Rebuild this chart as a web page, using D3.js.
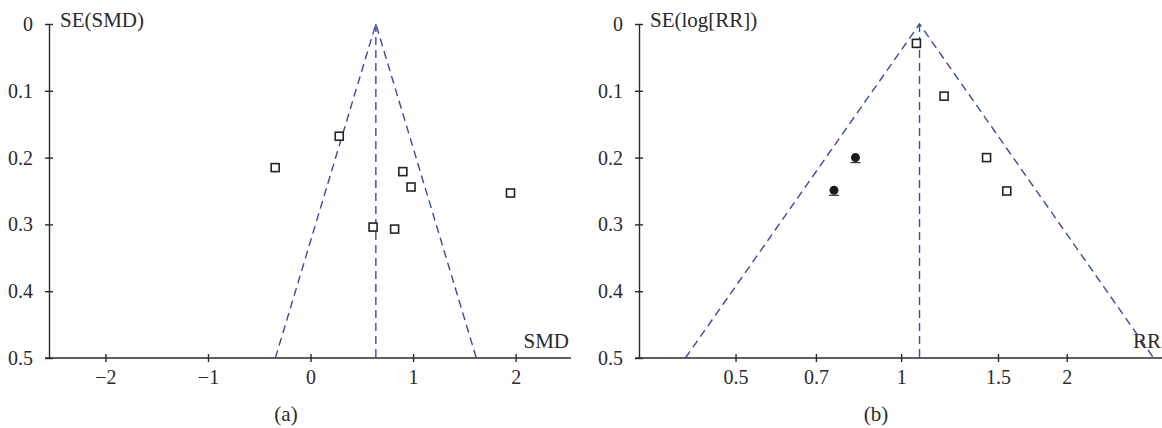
<!DOCTYPE html>
<html>
<head>
<meta charset="utf-8">
<script src="https://cdn.jsdelivr.net/npm/d3@7"></script>
<style>
  body { margin: 0; background: #fff; }
  svg { display: block; }
  text { font-family: "Liberation Serif", "DejaVu Serif", serif; fill: #2a2a2a; }
  .axis path, .axis line { stroke: #2a2a2a; stroke-width: 1.4; }
  .funnel { stroke: #3b48a6; stroke-width: 1.4; stroke-dasharray: 8,5; fill: none; }
</style>
</head>
<body>
<svg id="chart" width="1162" height="428"></svg>
<script>
// SE axis (shared)
const seTicks = [0, 0.1, 0.2, 0.3, 0.4, 0.5];

// (a) SMD funnel
const smdTicks = [-2, -1, 0, 1, 2];
const smdValues = [0.28, -0.345, 0.90, 0.98, 1.95, 0.61, 0.82];
const smdSE = [0.168, 0.215, 0.221, 0.244, 0.253, 0.304, 0.307];
const pooledSMD = 0.637;

// (b) RR funnel
const rrTicks = [0.5, 0.7, 1, 1.5, 2];
const rrObserved = [1.066, 1.197, 1.43, 1.556];
const rrObservedSE = [0.029, 0.108, 0.20, 0.25];
const rrFilled = [0.826, 0.755];
const rrFilledSE = [0.20, 0.249];
const pooledRR = 1.08;

const svg = d3.select('#chart');

function crossTicks(axisG, horizontal) {
  axisG.selectAll('.tick line').each(function() {
    const l = d3.select(this);
    if (horizontal) l.attr('y1', -4).attr('y2', 4);
    else l.attr('x1', -4).attr('x2', 4);
  });
  axisG.attr('font-family', null).attr('font-size', null);
  axisG.selectAll('text').style('font-size', '20px').attr('fill', '#2a2a2a');
}

function drawPanel(opt) {
  const { x, y, yAxisX, xAxisStart, tickFmt, ticks, yTitle, xTitle, xTitleX, caption, captionX } = opt;
  const g = svg.append('g');

  // x axis
  const xa = g.append('g').attr('class', 'axis')
    .attr('transform', `translate(0,${y(0.5)})`)
    .call(d3.axisBottom(x).tickValues(ticks).tickFormat(tickFmt)
      .tickSizeInner(4).tickSizeOuter(0).tickPadding(8));
  xa.select('.domain').attr('d', `M${xAxisStart},0H${x.range()[1]}`);
  crossTicks(xa, true);

  // y axis
  const ya = g.append('g').attr('class', 'axis')
    .attr('transform', `translate(${yAxisX},0)`)
    .call(d3.axisLeft(y).tickValues(seTicks).tickFormat(d => d === 0 ? '0' : d3.format('.1f')(d))
      .tickSizeInner(4).tickSizeOuter(0).tickPadding(12));
  crossTicks(ya, false);

  g.append('text').attr('x', yAxisX + 11).attr('y', y(0) + 3)
    .style('font-size', '21px').text(yTitle);
  g.append('text').attr('x', xTitleX).attr('y', y(0.5) - 10)
    .attr('text-anchor', 'end').style('font-size', '21px').text(xTitle);
  g.append('text').attr('x', captionX).attr('y', 421)
    .attr('text-anchor', 'middle').style('font-size', '21px').text(caption);
  return g;
}

// ---------- (a) ----------
const xA = d3.scaleLinear().domain([-2.57, 2.54]).range([47, 571]);
const yA = d3.scaleLinear().domain([0, 0.5]).range([24, 358]);
const gA = drawPanel({
  x: xA, y: yA, yAxisX: 49, xAxisStart: 45, ticks: smdTicks,
  tickFmt: d => d < 0 ? '\u2212' + Math.abs(d) : String(d),
  yTitle: 'SE(SMD)', xTitle: 'SMD', xTitleX: 569, caption: '(a)', captionX: 286
});

const lineA = d3.line().x(d => xA(d[0])).y(d => yA(d[1]));
gA.append('path').attr('class', 'funnel')
  .attr('d', lineA([[pooledSMD - 1.96 * 0.5, 0.5], [pooledSMD, 0], [pooledSMD + 1.96 * 0.5, 0.5]]));
gA.append('path').attr('class', 'funnel')
  .attr('d', lineA([[pooledSMD, 0], [pooledSMD, 0.5]]));

gA.selectAll('.pt').data(smdValues.map((v, i) => ({ v, se: smdSE[i] })))
  .enter().append('rect')
  .attr('x', d => xA(d.v) - 4).attr('y', d => yA(d.se) - 4)
  .attr('width', 8).attr('height', 8)
  .attr('fill', '#fff').attr('stroke', '#222').attr('stroke-width', 1.6);

// ---------- (b) ----------
const xB = d3.scaleLog().domain([0.331, 2.98]).range([637, 1162]);
const yB = d3.scaleLinear().domain([0, 0.5]).range([24, 358]);
const gB = drawPanel({
  x: xB, y: yB, yAxisX: 639, xAxisStart: 635, ticks: rrTicks,
  tickFmt: d => String(d),
  yTitle: 'SE(log[RR])', xTitle: 'RR', xTitleX: 1161, caption: '(b)', captionX: 876
});

const lp = Math.log(pooledRR);
const lineB = d3.line().x(d => xB(Math.exp(d[0]))).y(d => yB(d[1]));
gB.append('path').attr('class', 'funnel')
  .attr('d', lineB([[lp - 1.96 * 0.5, 0.5], [lp, 0], [lp + 1.96 * 0.5, 0.5]]));
gB.append('path').attr('class', 'funnel')
  .attr('d', lineB([[lp, 0], [lp, 0.5]]));

gB.selectAll('.obs').data(rrObserved.map((v, i) => ({ v, se: rrObservedSE[i] })))
  .enter().append('rect')
  .attr('x', d => xB(d.v) - 4).attr('y', d => yB(d.se) - 4)
  .attr('width', 8).attr('height', 8)
  .attr('fill', '#fff').attr('stroke', '#222').attr('stroke-width', 1.6);

const filled = gB.selectAll('.fill').data(rrFilled.map((v, i) => ({ v, se: rrFilledSE[i] })))
  .enter().append('g')
  .attr('transform', d => `translate(${xB(d.v)},${yB(d.se)})`);
filled.append('circle').attr('r', 4.5).attr('fill', '#1a1a1a');
filled.append('line').attr('x1', -5).attr('x2', 5).attr('y1', 5).attr('y2', 5)
  .attr('stroke', '#333').attr('stroke-width', 1.2);
</script>
</body>
</html>
